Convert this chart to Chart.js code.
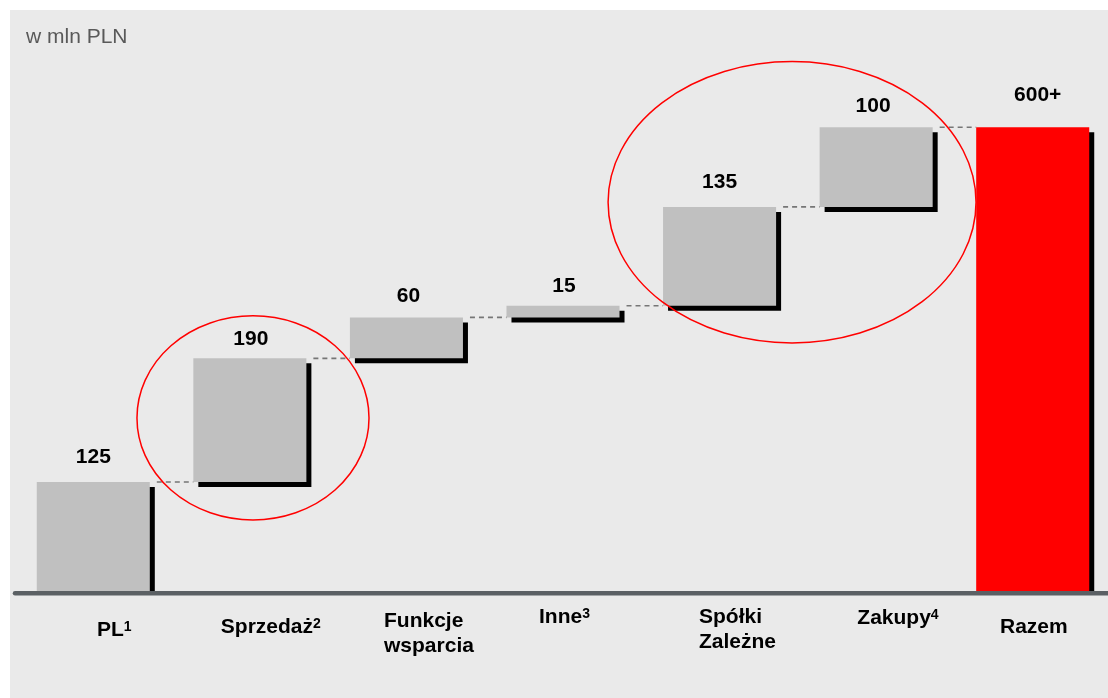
<!DOCTYPE html>
<html>
<head>
<meta charset="utf-8">
<script src="https://cdn.jsdelivr.net/npm/chart.js@4.4.1/dist/chart.umd.min.js"></script>
<style>
    html, body { margin: 0; padding: 0; background: #ffffff; overflow: hidden; width: 1108px; height: 698px; }
    #panel { position: absolute; left: 10px; top: 10px; width: 1098px; height: 688px; background: #eaeaea; }
    #wrap { position: absolute; left: 0; top: 0; width: 1111px; height: 698px; }
</style>
</head>
<body>
<div id="panel"></div>
<div id="wrap"><canvas id="waterfallChart" width="1111" height="698"></canvas></div>
<script>
// Data. Bar heights are as drawn (the slide does not
// draw them to the scale of the printed numbers), in units where the total is 600.
const categoryLines = [['PL'], ['Sprzedaż'], ['Funkcje', 'wsparcia'], ['Inne'], ['Spółki', 'Zależne'], ['Zakupy'], ['Razem']];
const footnotes = ['1', '2', '', '3', '', '4', ''];
const valueLabels = ['125', '190', '60', '15', '135', '100', '600+'];
const stepHeights = [141, 160, 53, 15, 128, 103];
const totalHeight = 600;
const unitLabel = 'w mln PLN';

// highlight ellipses: centre in category index / value units, radii the same
const highlightEllipses = [
    { cx: 1.02, cy: 224, rx: 0.741, ry: 132 },
    { cx: 4.463, cy: 503, rx: 1.175, ry: 182 }
];

// build floating bars from the steps
const barStarts = [];
const barEnds = [];
let runningTotal = 0;
stepHeights.forEach(function(step) {
    barStarts.push(runningTotal);
    runningTotal += step;
    barEnds.push(runningTotal);
});
barStarts.push(0);
barEnds.push(totalHeight);

const barData = barStarts.map(function(start, i) { return [start, barEnds[i]]; });
const barColors = categoryLines.map(function(_, i) { return i === categoryLines.length - 1 ? '#ff0000' : '#c0c0c0'; });

// label placement (style only)
const valueLabelGap = [19, 13, 15, 14, 19, 15, 26];
const valueLabelShift = [0, 1, 2, 1, 0, -3, 5];
const categoryLabelLayout = [
    { dx: 3.7, dy: 45 },
    { dx: -29, dy: 42 },
    { dx: -22.4, dy: 36 },
    { dx: -24, dy: 32 },
    { dx: -20.6, dy: 32 },
    { dx: -18.8, dy: 33 },
    { dx: -32.7, dy: 42 }
];
const fontFamily = "'Liberation Sans', Arial, sans-serif";

const waterfallDecor = {
    id: 'waterfallDecor',
    beforeDatasetsDraw: function(chart) {
        const ctx = chart.ctx;
        ctx.save();
        ctx.shadowColor = '#000000';
        ctx.shadowOffsetX = 5;
        ctx.shadowOffsetY = 5;
        ctx.shadowBlur = 0;
    },
    afterDatasetsDraw: function(chart) {
        const ctx = chart.ctx;
        ctx.restore();

        const xScale = chart.scales.x;
        const yScale = chart.scales.y;
        const bars = chart.getDatasetMeta(0).data;
        const zeroY = yScale.getPixelForValue(0);

        // dashed connectors
        ctx.save();
        ctx.strokeStyle = '#767676';
        ctx.lineWidth = 1.6;
        ctx.setLineDash([5, 4]);
        for (let i = 0; i < bars.length - 1; i++) {
            const y = yScale.getPixelForValue(barEnds[i]);
            const x1 = bars[i].x + bars[i].width / 2 + 7;
            const x2 = bars[i + 1].x - bars[i + 1].width / 2;
            ctx.beginPath();
            ctx.moveTo(x1, y);
            ctx.lineTo(x2, y);
            ctx.stroke();
        }
        ctx.restore();

        // base line
        ctx.save();
        ctx.strokeStyle = '#5b6064';
        ctx.lineWidth = 4.5;
        ctx.lineCap = 'round';
        ctx.beginPath();
        ctx.moveTo(15, zeroY + 2.3);
        ctx.lineTo(chart.width + 5, zeroY + 2.3);
        ctx.stroke();
        ctx.restore();

        // red highlight ellipses
        ctx.save();
        ctx.strokeStyle = '#ff0000';
        ctx.lineWidth = 1.5;
        highlightEllipses.forEach(function(e) {
            const cx = xScale.getPixelForValue(e.cx);
            const cy = yScale.getPixelForValue(e.cy);
            const rx = xScale.getPixelForValue(e.cx + e.rx) - cx;
            const ry = cy - yScale.getPixelForValue(e.cy + e.ry);
            ctx.beginPath();
            ctx.ellipse(cx, cy, rx, ry, 0, 0, Math.PI * 2);
            ctx.stroke();
        });
        ctx.restore();

        // value labels
        ctx.save();
        ctx.fillStyle = '#000000';
        ctx.font = 'bold 21px ' + fontFamily;
        ctx.textAlign = 'center';
        ctx.textBaseline = 'alphabetic';
        bars.forEach(function(bar, i) {
            ctx.fillText(valueLabels[i], bar.x + valueLabelShift[i], bar.y - valueLabelGap[i]);
        });
        ctx.restore();

        // category labels with footnote marks
        ctx.save();
        ctx.fillStyle = '#000000';
        ctx.textAlign = 'left';
        ctx.textBaseline = 'alphabetic';
        bars.forEach(function(bar, i) {
            const layout = categoryLabelLayout[i];
            const left = bar.x + layout.dx;
            const lines = categoryLines[i];
            let lastWidth = 0;
            let lastY = 0;
            ctx.font = 'bold 21px ' + fontFamily;
            lines.forEach(function(line, j) {
                const y = zeroY + layout.dy + j * 25;
                ctx.fillText(line, left, y);
                lastWidth = ctx.measureText(line).width;
                lastY = y;
            });
            if (footnotes[i]) {
                ctx.font = 'bold 14px ' + fontFamily;
                ctx.fillText(footnotes[i], left + lastWidth, lastY - 5);
            }
        });
        ctx.restore();

        // unit caption
        ctx.save();
        ctx.fillStyle = '#595959';
        ctx.font = '21px ' + fontFamily;
        ctx.textAlign = 'left';
        ctx.textBaseline = 'alphabetic';
        ctx.fillText(unitLabel, 26, 43);
        ctx.restore();
    }
};

const waterfallContext = document.getElementById('waterfallChart').getContext('2d');

const waterfallChart = new Chart(waterfallContext, {
    type: 'bar',
    data: {
        labels: categoryLines.map(function(lines) { return lines.join(' '); }),
        datasets: [{
            data: barData,
            backgroundColor: barColors,
            borderWidth: 0,
            borderSkipped: false,
            barPercentage: 0.722,
            categoryPercentage: 1
        }]
    },
    options: {
        responsive: false,
        devicePixelRatio: 1,
        animation: false,
        layout: { padding: { left: 15, right: 0, top: 50, bottom: 107 } },
        plugins: {
            legend: { display: false },
            tooltip: { enabled: false }
        },
        scales: {
            x: { display: false },
            y: { display: false, min: 0, max: 700 }
        }
    },
    plugins: [waterfallDecor]
});
</script>
</body>
</html>
